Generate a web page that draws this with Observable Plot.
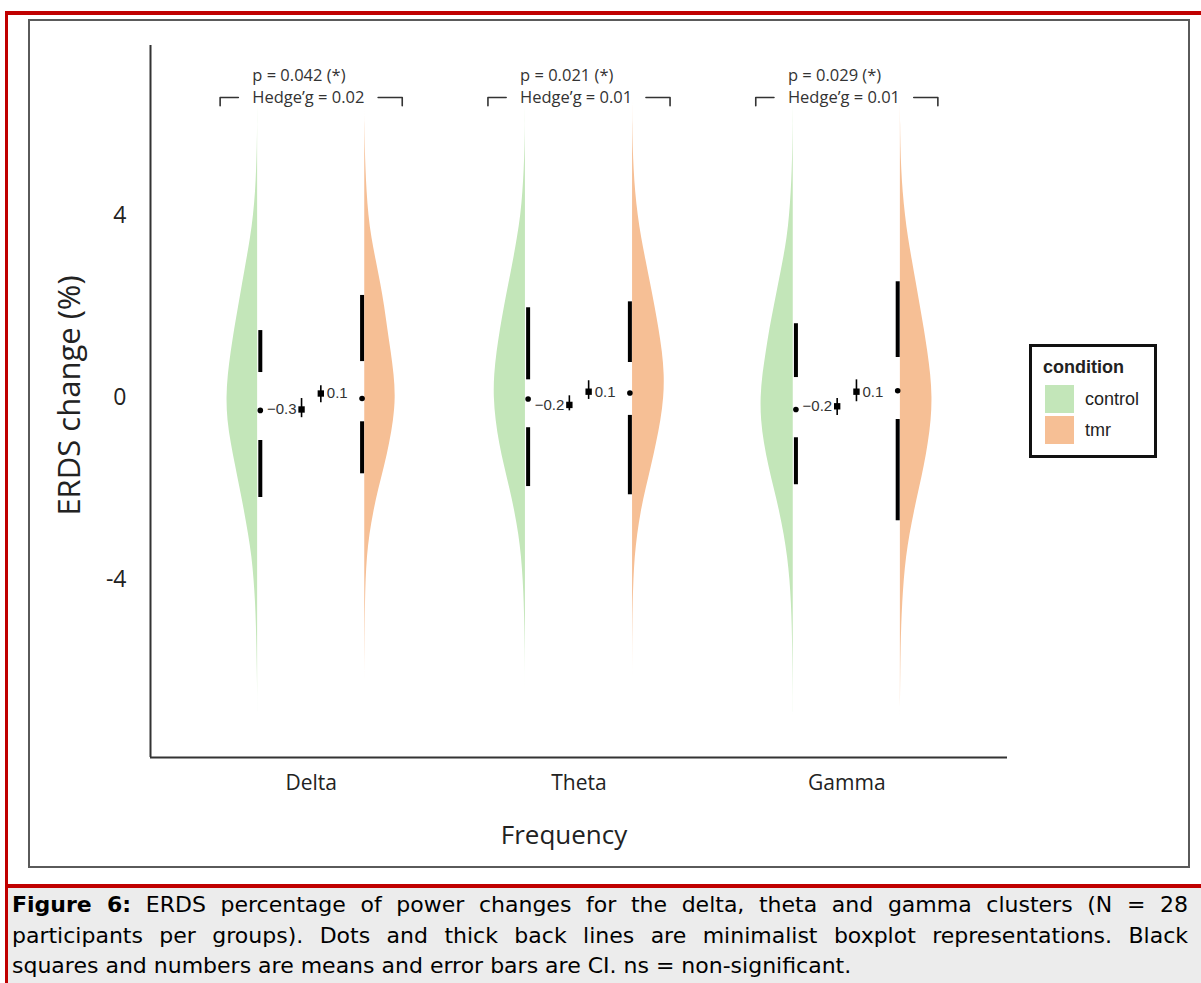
<!DOCTYPE html>
<html>
<head>
<meta charset="utf-8">
<script src="https://cdn.jsdelivr.net/npm/d3@7"></script>
<script src="https://cdn.jsdelivr.net/npm/@observablehq/plot@0.6"></script>
<style>
  html, body { margin: 0; padding: 0; background: #fff; }
  body { width: 1201px; height: 983px; position: relative; overflow: hidden; }
  .red-top { position: absolute; left: 5px; top: 11px; width: 1196px; height: 4px; background: #c00000; }
  .red-left { position: absolute; left: 5px; top: 11px; width: 3px; height: 972px; background: #c00000; }
  #plot { position: absolute; left: 0; top: 0; }
  .frame { position: absolute; left: 28px; top: 19px; width: 1158px; height: 845px; border: 2px solid #5a5a5a; pointer-events: none; }
  #legend { position: absolute; left: 1029px; top: 344px; width: 122px; height: 108px; border: 3px solid #111; background: #fff;
            font-family: "Liberation Sans", Arial, sans-serif; color: #222; }
  #legend .title { position: absolute; left: 11px; top: 9px; font-size: 18px; font-weight: bold; line-height: 22px; }
  #legend .sw { position: absolute; left: 13px; width: 29px; height: 28px; }
  #legend .lab { position: absolute; left: 53px; font-size: 18px; line-height: 28px; }
  #caption { position: absolute; left: 8px; top: 884px; width: 1176px; height: 95px; border-top: 4px solid #c00000;
             background: #ececec; padding: 2px 13px 0 4px;
             font-family: "DejaVu Sans", sans-serif; font-size: 22px; color: #000; }
  #caption .ln { line-height: 30.5px; white-space: nowrap; }
  #caption .just { text-align: justify; text-align-last: justify; white-space: normal; }
</style>
</head>
<body>
<div class="red-top"></div>
<div class="red-left"></div>
<div id="plot"></div>
<div class="frame"></div>
<div id="legend"></div>
<div id="caption"></div>
<script>
// ---------------- data ----------------
const categories = ["Delta", "Theta", "Gamma"];
const conditions = ["control", "tmr"];
const conditionColors = ["#c3e6b9", "#f6bf95"];

// y levels at which violin half-widths were read (ERDS %)
const levels = [6.5, 6, 5.5, 5, 4.5, 4, 3.5, 3, 2.5, 2, 1.5, 1, 0.5, 0, -0.5, -1, -1.5, -2, -2.5, -3, -3.5, -4, -4.5, -5, -5.5, -6, -6.5, -7];
// relative density (half-width)
const deltaControlDensity = [0, 0, 0.3, 1, 2, 4, 7, 11, 15, 19, 23, 26.5, 29.5, 31, 30, 26.5, 22, 17.5, 13, 9, 5.5, 3.5, 2, 1.2, 0.7, 0.3, 0, 0];
const deltaTmrDensity     = [0, 0.1, 0.5, 1.2, 2.3, 4, 7, 11.5, 16, 20, 23, 26.5, 29.5, 31, 29, 25, 20, 14, 9, 5, 2.5, 1.3, 0.7, 0.4, 0.2, 0, 0, 0];
const thetaControlDensity = [0, 0, 0.4, 1.2, 2.5, 4.5, 8, 12, 16.5, 21, 25, 28.5, 31, 31.5, 29.5, 26, 21, 15.5, 10.5, 6.5, 3.8, 2.2, 1.2, 0.6, 0.2, 0, 0, 0];
const thetaTmrDensity     = [0, 0.2, 0.6, 1.5, 3, 5.5, 9, 13.5, 18, 22.5, 26.5, 30, 32, 31.5, 28.5, 24, 19, 13.5, 8.5, 5, 2.5, 1.3, 0.6, 0.3, 0.1, 0, 0, 0];
const gammaControlDensity = [0, 0.1, 0.4, 1, 2, 3.6, 6, 10, 14.5, 19, 23.5, 27, 30.5, 32.5, 32, 29, 24.5, 19, 13.5, 9, 5.5, 3.2, 1.8, 1, 0.6, 0.3, 0.1, 0];
const gammaTmrDensity     = [0, 0.2, 0.5, 1.3, 2.7, 5, 8, 12, 16, 20, 24, 27.5, 30.5, 32, 31, 28, 24, 19, 14, 9.5, 6, 3.8, 2.3, 1.3, 0.7, 0.4, 0.15, 0];

// minimalist boxplot (Delta, Theta, Gamma)
const controlWhiskerHigh = [1.47, 1.97, 1.62];
const controlQ3          = [0.55, 0.39, 0.44];
const controlMedian      = [-0.28, -0.03, -0.26];
const controlQ1          = [-0.94, -0.66, -0.88];
const controlWhiskerLow  = [-2.19, -1.95, -1.91];
const tmrWhiskerHigh     = [2.24, 2.10, 2.54];
const tmrQ3              = [0.79, 0.77, 0.88];
const tmrMedian          = [-0.02, 0.10, 0.15];
const tmrQ1              = [-0.53, -0.39, -0.48];
const tmrWhiskerLow      = [-1.67, -2.13, -2.70];

// means and confidence intervals
const controlMean  = [-0.26, -0.16, -0.19];
const controlCILow = [-0.44, -0.29, -0.39];
const controlCIHigh= [-0.02, 0.04, -0.02];
const tmrMean      = [0.09, 0.13, 0.13];
const tmrCILow     = [-0.11, -0.04, -0.09];
const tmrCIHigh    = [0.26, 0.37, 0.39];

// statistics annotations
const pValues  = [0.042, 0.021, 0.029];
const hedgesG  = [0.02, 0.01, 0.01];

const yTicks = [-4, 0, 4];

// ---------------- layout constants ----------------
const violinOffset = 0.2;     // flat edge of half violins (x units)
const boxOffset = 0.19;       // minimalist boxplot lines
const meanOffset = 0.036;     // mean squares
const densityToX = 1 / 267.8; // density units -> x units
const annotP = 7.06, annotG = 6.58, bracketDrop = 6.4;

// ---------------- build tables ----------------
const densities = {
  control: [deltaControlDensity, thetaControlDensity, gammaControlDensity],
  tmr: [deltaTmrDensity, thetaTmrDensity, gammaTmrDensity]
};
const violinRows = [];
categories.forEach((cat, i) => {
  conditions.forEach(cond => {
    const sign = cond === "control" ? -1 : 1;
    const base = i + 1 + sign * violinOffset;
    levels.forEach((lv, j) => {
      violinRows.push({key: cat + cond, cond, y: lv, base, edge: base + sign * densities[cond][i][j] * densityToX});
    });
  });
});

const stats = [];
categories.forEach((cat, i) => {
  stats.push({cat, cond: "control", boxX: i + 1 - boxOffset, meanX: i + 1 - meanOffset,
    wh: controlWhiskerHigh[i], q3: controlQ3[i], med: controlMedian[i], q1: controlQ1[i], wl: controlWhiskerLow[i],
    mean: controlMean[i], lo: controlCILow[i], hi: controlCIHigh[i]});
  stats.push({cat, cond: "tmr", boxX: i + 1 + boxOffset, meanX: i + 1 + meanOffset,
    wh: tmrWhiskerHigh[i], q3: tmrQ3[i], med: tmrMedian[i], q1: tmrQ1[i], wl: tmrWhiskerLow[i],
    mean: tmrMean[i], lo: tmrCILow[i], hi: tmrCIHigh[i]});
});

const annot = categories.map((cat, i) => ({x: i + 1, p: pValues[i], g: hedgesG[i]}));
const bracketRows = [];
annot.forEach((a, i) => {
  bracketRows.push({k: "L" + i, x: a.x - 0.34, y: bracketDrop});
  bracketRows.push({k: "L" + i, x: a.x - 0.34, y: annotG});
  bracketRows.push({k: "L" + i, x: a.x - 0.272, y: annotG});
  bracketRows.push({k: "R" + i, x: a.x + 0.25, y: annotG});
  bracketRows.push({k: "R" + i, x: a.x + 0.34, y: annotG});
  bracketRows.push({k: "R" + i, x: a.x + 0.34, y: bracketDrop});
});

const fmt1 = d3.format(".1f");
const fmtP = d3.format(".3f");
const fmtG = d3.format(".2f");
const xDomain = [0.4, 3.6];
const yDomain = [-7.89, 7.72];

const chart = Plot.plot({
  width: 1201,
  height: 870,
  marginLeft: 150, marginRight: 194, marginTop: 45, marginBottom: 113,
  x: {type: "linear", domain: xDomain},
  y: {domain: yDomain},
  color: {domain: conditions, range: conditionColors},
  style: {fontFamily: "Open Sans, sans-serif", background: "transparent", color: "#222", overflow: "visible"},
  marks: [
    Plot.areaX(violinRows, {y: "y", x1: "base", x2: "edge", z: "key", fill: "cond", curve: "basis"}),
    Plot.ruleX(stats, {x: "boxX", y1: "q3", y2: "wh", stroke: "black", strokeWidth: 4}),
    Plot.ruleX(stats, {x: "boxX", y1: "wl", y2: "q1", stroke: "black", strokeWidth: 4}),
    Plot.dot(stats, {x: "boxX", y: "med", r: 2.8, fill: "black", stroke: null}),
    Plot.ruleX(stats, {x: "meanX", y1: "lo", y2: "hi", stroke: "black", strokeWidth: 1.6}),
    Plot.dot(stats, {x: "meanX", y: "mean", symbol: "square", r: 3.6, fill: "black", stroke: null}),
    Plot.text(stats.filter(d => d.cond === "control"), {x: "meanX", y: "mean", text: d => fmt1(d.mean),
      textAnchor: "end", dx: -5, fontSize: 15, fontFamily: "Liberation Sans, Arial, sans-serif", fill: "#333"}),
    Plot.text(stats.filter(d => d.cond === "tmr"), {x: "meanX", y: "mean", text: d => fmt1(d.mean),
      textAnchor: "start", dx: 6, fontSize: 15, fontFamily: "Liberation Sans, Arial, sans-serif", fill: "#333"}),
    Plot.text(annot, {x: d => d.x - 0.22, y: () => annotP, text: d => `p = ${fmtP(d.p)} (*)`, textAnchor: "start", fontSize: 16.5, fill: "#333"}),
    Plot.text(annot, {x: d => d.x - 0.22, y: () => annotG, text: d => `Hedge’g = ${fmtG(d.g)}`, textAnchor: "start", fontSize: 16.5, fill: "#333"}),
    Plot.line(bracketRows, {x: "x", y: "y", z: "k", stroke: "#333", strokeWidth: 1.6}),
    Plot.ruleX([xDomain[0]], {stroke: "#333", strokeWidth: 2}),
    Plot.ruleY([yDomain[0]], {stroke: "#333", strokeWidth: 2}),
    Plot.axisY({ticks: yTicks, tickSize: 0, tickPadding: 24, fontSize: 23, tickFormat: d => String(d), label: null, fill: "#222"}),
    Plot.axisX({ticks: [1, 2, 3], tickSize: 0, tickPadding: 18, fontSize: 21, tickFormat: d => categories[d - 1], label: null, fill: "#222"}),
    Plot.text(["ERDS change (%)"], {frameAnchor: "left", dx: -80, dy: -6, rotate: -90, textAnchor: "middle", fontSize: 31, fill: "#222"}),
    Plot.text(["Frequency"], {frameAnchor: "bottom", dy: 86, dx: -15, fontSize: 26, fill: "#222"})
  ]
});
document.getElementById("plot").appendChild(chart);

// legend
const legend = document.getElementById("legend");
legend.innerHTML = `<div class="title">condition</div>` +
  conditions.map((c, i) => `<div class="sw" style="top:${38 + i * 31}px;background:${conditionColors[i]}"></div>` +
    `<div class="lab" style="top:${38 + i * 31}px">${c}</div>`).join("");

// caption
const captionLines = [
  "<b>Figure 6:</b> ERDS percentage of power changes for the delta, theta and gamma clusters (N = 28",
  "participants per groups). Dots and thick back lines are minimalist boxplot representations. Black",
  "squares and numbers are means and error bars are CI. ns = non-significant."
];
document.getElementById("caption").innerHTML = captionLines.map((t, i) =>
  `<div class="ln${i < 2 ? " just" : ""}">${t}</div>`).join("");
</script>
</body>
</html>
